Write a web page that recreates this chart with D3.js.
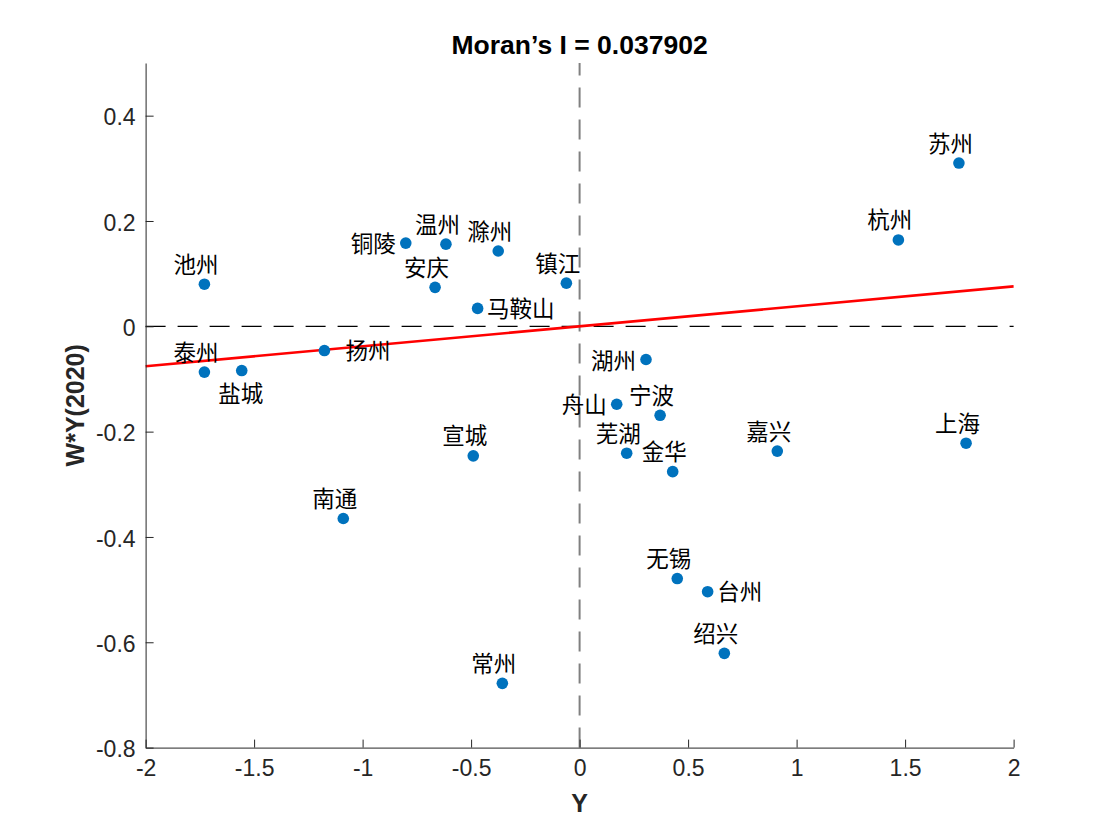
<!DOCTYPE html>
<html>
<head>
<meta charset="utf-8">
<script src="https://cdn.jsdelivr.net/npm/d3@7/dist/d3.min.js"></script>
<style>
  html, body { margin: 0; padding: 0; background: #ffffff; }
  svg { display: block; }
</style>
</head>
<body>
<svg id="chart" width="1120" height="840"></svg>
<script>
// ---------------- data ----------------
const cities = ['苏州','杭州','池州','铜陵','温州','滁州','安庆','马鞍山','镇江','扬州','泰州','盐城','湖州',
                '舟山','宁波','芜湖','金华','嘉兴','上海','宣城','南通','无锡','台州','绍兴','常州'];
// standardized value Y
const yValues  = [1.748, 1.469, -1.729, -0.801, -0.616, -0.375, -0.666, -0.470, -0.061, -1.176, -1.729, -1.557, 0.306,
                  0.171, 0.371, 0.217, 0.429, 0.911, 1.781, -0.490, -1.089, 0.450, 0.590, 0.667, -0.356];
// spatial lag W*Y(2020)
const wyValues = [0.310, 0.164, 0.080, 0.158, 0.156, 0.143, 0.074, 0.034, 0.082, -0.046, -0.087, -0.084, -0.063,
                  -0.148, -0.169, -0.241, -0.276, -0.237, -0.222, -0.246, -0.365, -0.479, -0.504, -0.621, -0.678];
const moranI = 0.037902;
const xTicks = [-2, -1.5, -1, -0.5, 0, 0.5, 1, 1.5, 2];
const xTickLabels = ['-2', '-1.5', '-1', '-0.5', '0', '0.5', '1', '1.5', '2'];
const yTicks = [-0.8, -0.6, -0.4, -0.2, 0, 0.2, 0.4];
const yTickLabels = ['-0.8', '-0.6', '-0.4', '-0.2', '0', '0.2', '0.4'];
const xDomain = [-2, 2];
const yDomain = [-0.8, 0.5];
const titleText = 'Moran\u2019s I = 0.037902';
const xLabelText = 'Y';
const yLabelText = 'W*Y(2020)';

// ---------------- label placement (style) ----------------
const labelSide = {
  '铜陵': 'left', '湖州': 'left', '舟山': 'left',
  '马鞍山': 'right', '台州': 'right', '扬州': 'rightFar',
  '盐城': 'bottom'
};

// ---------------- layout ----------------
const L = 145.6, R = 1013.6, T = 63, B = 747.6;
const svg = d3.select('#chart');
const x = d3.scaleLinear().domain(xDomain).range([L, R]);
const y = d3.scaleLinear().domain(yDomain).range([B, T]);

const latin = '"Liberation Sans", Arial, Helvetica, sans-serif';
const cjk = '"Noto Sans CJK SC", "Noto Sans CJK JP", sans-serif';
const axisColor = '#262626';

svg.append('rect').attr('width', 1120).attr('height', 840).attr('fill', '#ffffff');

// reference dashed lines
svg.append('line')
  .attr('x1', x(0)).attr('x2', x(0))
  .attr('y1', y(yDomain[0])).attr('y2', y(yDomain[1]))
  .attr('stroke', '#808080').attr('stroke-width', 2)
  .attr('stroke-dasharray', '20,12');

svg.append('line')
  .attr('x1', x(xDomain[0])).attr('x2', x(xDomain[1]))
  .attr('y1', y(0)).attr('y2', y(0))
  .attr('stroke', '#000000').attr('stroke-width', 1.3)
  .attr('stroke-dasharray', '20,12');

// regression line y = I * x
const fitLine = d3.line().x(d => x(d)).y(d => y(moranI * d));
svg.append('path')
  .datum(xDomain)
  .attr('d', fitLine)
  .attr('fill', 'none')
  .attr('stroke', '#ff0000')
  .attr('stroke-width', 2.6);

// axes
const xAxis = d3.axisBottom(x).tickValues(xTicks)
  .tickFormat((d, i) => xTickLabels[i])
  .tickSizeInner(-8).tickSizeOuter(0).tickPadding(12);
const yAxis = d3.axisLeft(y).tickValues(yTicks)
  .tickFormat((d, i) => yTickLabels[i])
  .tickSizeInner(-8).tickSizeOuter(0).tickPadding(10);

const gx = svg.append('g').attr('transform', `translate(0,${B})`).call(xAxis);
const gy = svg.append('g').attr('transform', `translate(${L},0)`).call(yAxis);

[gx, gy].forEach(g => {
  g.select('.domain').attr('stroke', axisColor).attr('stroke-width', 1);
  g.selectAll('.tick line').attr('stroke', axisColor).attr('stroke-width', 1);
  g.selectAll('.tick text')
    .attr('fill', axisColor)
    .style('font-family', latin)
    .style('font-size', '23px');
});
gy.selectAll('.tick text').attr('dy', '0.4em');
gx.selectAll('.tick text').attr('dy', '0.72em');

// points
const pts = cities.map((c, i) => ({ name: c, vx: yValues[i], vy: wyValues[i] }));

svg.append('g').selectAll('circle')
  .data(pts).enter().append('circle')
  .attr('cx', d => x(d.vx))
  .attr('cy', d => y(d.vy))
  .attr('r', 5.8)
  .attr('fill', '#0072bd');

// labels
const fs = 22.5;
const baseShift = 0.38 * fs;
svg.append('g').selectAll('text')
  .data(pts).enter().append('text')
  .text(d => d.name)
  .style('font-family', cjk)
  .style('font-size', fs + 'px')
  .attr('fill', '#000000')
  .each(function (d) {
    const px = x(d.vx), py = y(d.vy);
    const side = labelSide[d.name] || 'top';
    const t = d3.select(this);
    if (side === 'top') {
      t.attr('text-anchor', 'middle').attr('x', px - 8.5).attr('y', py - 20 + baseShift);
    } else if (side === 'left') {
      t.attr('text-anchor', 'end').attr('x', px - 10).attr('y', py + 0.5 + baseShift);
    } else if (side === 'right') {
      t.attr('text-anchor', 'start').attr('x', px + 9.5).attr('y', py + baseShift);
    } else if (side === 'rightFar') {
      t.attr('text-anchor', 'start').attr('x', px + 21).attr('y', py + baseShift);
    } else {
      t.attr('text-anchor', 'middle').attr('x', px - 1).attr('y', py + 23 + baseShift);
    }
  });

// title and axis labels
svg.append('text')
  .attr('x', (L + R) / 2).attr('y', 54)
  .attr('text-anchor', 'middle')
  .style('font-family', latin).style('font-size', '26.5px').style('font-weight', 'bold')
  .attr('fill', '#000000')
  .text(titleText);

svg.append('text')
  .attr('x', (L + R) / 2).attr('y', 812)
  .attr('text-anchor', 'middle')
  .style('font-family', latin).style('font-size', '25px').style('font-weight', 'bold')
  .attr('fill', axisColor)
  .text(xLabelText);

svg.append('text')
  .attr('transform', `translate(84,${(T + B) / 2}) rotate(-90)`)
  .attr('text-anchor', 'middle')
  .style('font-family', latin).style('font-size', '25px').style('font-weight', 'bold')
  .attr('fill', axisColor)
  .text(yLabelText);
</script>
</body>
</html>
